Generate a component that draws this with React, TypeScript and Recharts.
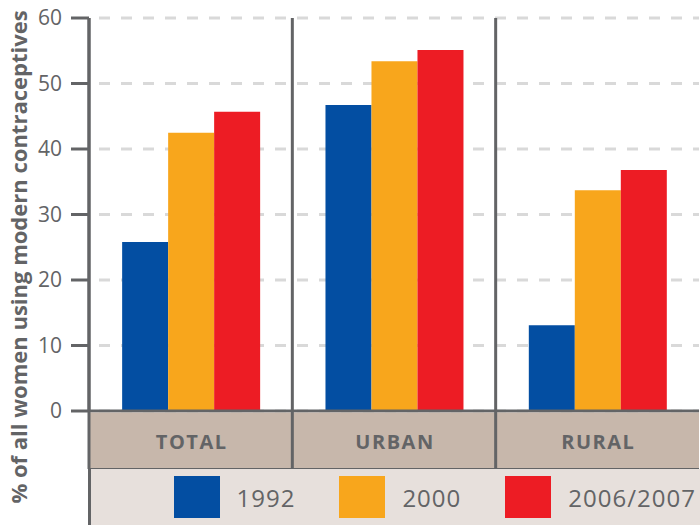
import { BarChart, Bar, XAxis, YAxis, CartesianGrid, Legend } from 'recharts';

const categories = ['TOTAL', 'URBAN', 'RURAL'];
const v1992 = [25.8, 46.7, 13.1];
const v2000 = [42.5, 53.4, 33.7];
const v2006 = [45.7, 55.1, 36.8];
const yTicks = [0, 10, 20, 30, 40, 50, 60];
const seriesNames = ['1992', '2000', '2006/2007'];
const yTitle = '% of all women using modern contraceptives';

const colors = ['#034ea2', '#f8a61c', '#ed1c24'];
const gray = '#636466';
const font = '"Open Sans", sans-serif';

// layout
const W = 700;
const H = 525;
const TOP = 18;
const LEFT = 89;
const AXIS_Y = 411;
const BAND_H = 58;
const LEGEND_H = 56;
const PLOT_W = W - 1 - LEFT;

const data = categories.map((c, i) => ({
  name: c,
  y1992: v1992[i],
  y2000: v2000[i],
  y2006: v2006[i],
}));

const CategoryTick = (props: any) => {
  const { x, payload } = props;
  const bw = PLOT_W / categories.length;
  const left = x - bw / 2;
  return (
    <g>
      <rect x={left} y={AXIS_Y + 1.5} width={bw} height={BAND_H - 1.5} fill="#c7b7ab" />
      <line x1={left} x2={left} y1={TOP} y2={AXIS_Y + BAND_H} stroke={gray} strokeWidth={3} />
      <line x1={left} x2={left + bw} y1={AXIS_Y + BAND_H} y2={AXIS_Y + BAND_H} stroke={gray} strokeWidth={2} />
      <text
        x={x + 1}
        y={AXIS_Y + BAND_H / 2 + 1}
        textAnchor="middle"
        dominantBaseline="central"
        fill={gray}
        fontFamily={font}
        fontWeight={700}
        fontSize={20}
        letterSpacing={1.5}
      >
        {payload.value}
      </text>
    </g>
  );
};

const renderTitle = () => (
  <text
    x={18}
    y={257}
    transform="rotate(-90 18 257)"
    textAnchor="middle"
    dominantBaseline="central"
    fill={gray}
    fontFamily={font}
    fontWeight={700}
    fontSize={22}
  >
    {yTitle}
  </text>
);

const renderLegend = () => (
  <div
    style={{
      height: LEGEND_H,
      background: '#e7e0dc',
      borderLeft: `3px solid ${gray}`,
      boxSizing: 'border-box',
      display: 'flex',
      alignItems: 'center',
      paddingLeft: 83,
      fontFamily: font,
      fontSize: 24,
      color: gray,
    }}
  >
    {seriesNames.map((n, i) => (
      <div key={n} style={{ display: 'flex', alignItems: 'center', marginRight: 44 }}>
        <div style={{ width: 46, height: 42, background: colors[i], marginRight: 17 }} />
        <span style={{ letterSpacing: 1 }}>{n}</span>
      </div>
    ))}
  </div>
);

export default function App() {
  return (
    <div>
      <style>{`body{margin:0;background:#fff}`}</style>
      <BarChart
        width={W}
        height={H}
        data={data}
        margin={{ top: TOP, right: 1, left: 0, bottom: 0 }}
        barCategoryGap="16.3%"
        barGap={0}
      >
        <CartesianGrid
          vertical={false}
          stroke="#d9d9d9"
          strokeWidth={3}
          strokeDasharray="11 11"
          strokeDashoffset={12}
        />
        <XAxis
          dataKey="name"
          height={BAND_H}
          axisLine={{ stroke: gray, strokeWidth: 3 }}
          tickLine={false}
          tick={<CategoryTick />}
          interval={0}
        />
        <YAxis
          width={LEFT}
          domain={[0, 60]}
          ticks={yTicks}
          interval={0}
          axisLine={{ stroke: gray, strokeWidth: 3 }}
          tickLine={{ stroke: gray, strokeWidth: 3 }}
          tickSize={18}
          tickMargin={9}
          tick={{ fill: gray, fontSize: 21, fontFamily: font }}
          label={renderTitle}
        />
        <Legend
          verticalAlign="bottom"
          height={LEGEND_H}
          wrapperStyle={{ left: LEFT - 1.5, width: W - LEFT + 1.5, bottom: 0 }}
          content={renderLegend}
        />
        <Bar dataKey="y1992" name={seriesNames[0]} fill={colors[0]} isAnimationActive={false} />
        <Bar dataKey="y2000" name={seriesNames[1]} fill={colors[1]} isAnimationActive={false} />
        <Bar dataKey="y2006" name={seriesNames[2]} fill={colors[2]} isAnimationActive={false} />
      </BarChart>
    </div>
  );
}
